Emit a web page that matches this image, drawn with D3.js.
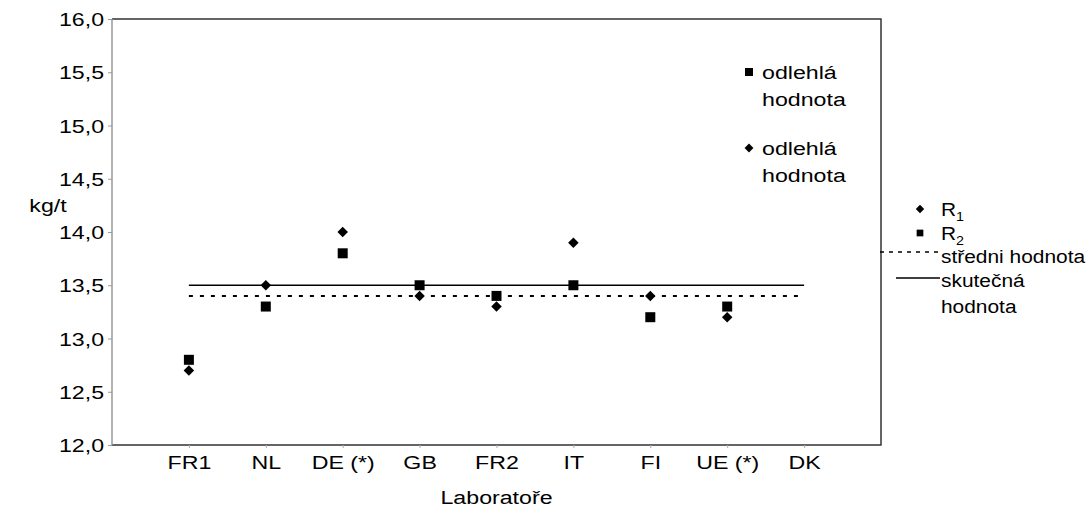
<!DOCTYPE html>
<html><head><meta charset="utf-8">
<script src="https://cdn.jsdelivr.net/npm/d3@7"></script>
<style>
body{margin:0;background:#fff;}
text{font-family:"Liberation Sans",Arial,sans-serif;fill:#000;}
</style></head>
<body>
<svg id="c" width="1091" height="513"></svg>
<script>
const categories = ["FR1","NL","DE (*)","GB","FR2","IT","FI","UE (*)","DK"];
const r1 = [12.7, 13.5, 14.0, 13.4, 13.3, 13.9, 13.4, 13.2, null];
const r2 = [12.8, 13.3, 13.8, 13.5, 13.4, 13.5, 13.2, 13.3, null];
const meanValue = 13.40;
const trueValue = 13.5;
const yTicks = [12.0,12.5,13.0,13.5,14.0,14.5,15.0,15.5,16.0];

const svg = d3.select("#c");
const L=112, R=881, T=19, B=445;
const SX = 1.22, LSX = 1.1, FS = "19px";
const x = d3.scaleLinear().domain([0, categories.length+1]).range([L,R]);
const y = d3.scaleLinear().domain([12,16]).range([B,T]);
const fmt = v => d3.format(".1f")(v).replace(".", ",");

function stext(px, py, sx, anchor){
  return svg.append("text").attr("transform",`translate(${px},${py}) scale(${sx},1)`)
    .attr("x",0).attr("y",0).attr("text-anchor",anchor||"start").style("font-size",FS);
}

// frame
svg.append("path").attr("d",`M${L},${T}H${R}V${B}H${L}`).attr("fill","none").attr("stroke","#333").attr("stroke-width",1.5);
svg.append("line").attr("x1",L).attr("x2",L).attr("y1",T).attr("y2",B).attr("stroke","#999").attr("stroke-width",1.5);

// y axis
const ya = svg.append("g").attr("transform",`translate(${L},0)`)
  .call(d3.axisLeft(y).tickValues(yTicks).tickFormat(fmt).tickSize(4).tickPadding(2.5));
ya.select(".domain").remove();
ya.selectAll(".tick line").attr("stroke","#999");
ya.selectAll(".tick text").style("font-size",FS).attr("dy","0.35em").attr("transform",`scale(${SX},1)`);

// x axis
const xa = svg.append("g").attr("transform",`translate(0,${B})`)
  .call(d3.axisBottom(x).tickValues(categories.map((d,i)=>i+1)).tickFormat(i=>categories[i-1]).tickSize(3).tickPadding(8));
xa.select(".domain").remove();
xa.selectAll(".tick line").attr("stroke","#aaa");
xa.selectAll(".tick text").style("font-size",FS).attr("transform",`scale(${SX},1)`);

// axis titles
stext(48,205,SX,"middle").attr("dy","0.35em").text("kg/t");
stext((L+R)/2,504,SX,"middle").text("Laboratoře");

// reference lines
const x0 = x(1), x1 = x(categories.length);
svg.append("line").attr("x1",x0).attr("x2",x1).attr("y1",y(trueValue)).attr("y2",y(trueValue)).attr("stroke","#000").attr("stroke-width",1.5);
svg.append("line").attr("x1",x0).attr("x2",x1).attr("y1",y(meanValue)).attr("y2",y(meanValue)).attr("stroke","#000").attr("stroke-width",2).attr("stroke-dasharray","4,7");

const diamond = d3.symbol().type(d3.symbolDiamond2).size(70);
const square = d3.symbol().type(d3.symbolSquare).size(100);

svg.append("g").selectAll("path").data(r2.map((v,i)=>[i,v]).filter(d=>d[1]!=null)).join("path")
  .attr("d",square).attr("transform",d=>`translate(${x(d[0]+1)},${y(d[1])})`).attr("fill","#000");
svg.append("g").selectAll("path").data(r1.map((v,i)=>[i,v]).filter(d=>d[1]!=null)).join("path")
  .attr("d",diamond).attr("transform",d=>`translate(${x(d[0]+1)},${y(d[1])})`).attr("fill","#000");

// annotations
function ann(sym, yy){
  svg.append("path").attr("d",sym === "sq" ? d3.symbol().type(d3.symbolSquare).size(64)() : d3.symbol().type(d3.symbolDiamond2).size(50)())
    .attr("transform",`translate(749,${yy})`).attr("fill","#000");
  const t = stext(762,yy,SX).attr("dy","0.35em");
  t.append("tspan").attr("x",0).text("odlehlá");
  t.append("tspan").attr("x",0).attr("dy","1.45em").text("hodnota");
}
ann("sq",72);
ann("di",148);

// legend
const lg = svg.append("g");
lg.append("path").attr("d",d3.symbol().type(d3.symbolDiamond2).size(45)()).attr("transform","translate(920,209)");
stext(941,209,LSX).attr("dy","0.35em").html('R<tspan dy="5" style="font-size:13px">1</tspan>');
lg.append("path").attr("d",d3.symbol().type(d3.symbolSquare).size(45)()).attr("transform","translate(920,233)");
stext(941,233,LSX).attr("dy","0.35em").html('R<tspan dy="5" style="font-size:13px">2</tspan>');
lg.append("line").attr("x1",880).attr("x2",940).attr("y1",252).attr("y2",252).attr("stroke","#000").attr("stroke-width",1.5).attr("stroke-dasharray","4,5");
stext(941,256,LSX).attr("dy","0.35em").text("středni hodnota");
lg.append("line").attr("x1",896).attr("x2",940).attr("y1",278).attr("y2",278).attr("stroke","#000").attr("stroke-width",1.5);
stext(941,280,LSX).attr("dy","0.35em").text("skutečná");
stext(941,306,LSX).attr("dy","0.35em").text("hodnota");
</script>
</body></html>
